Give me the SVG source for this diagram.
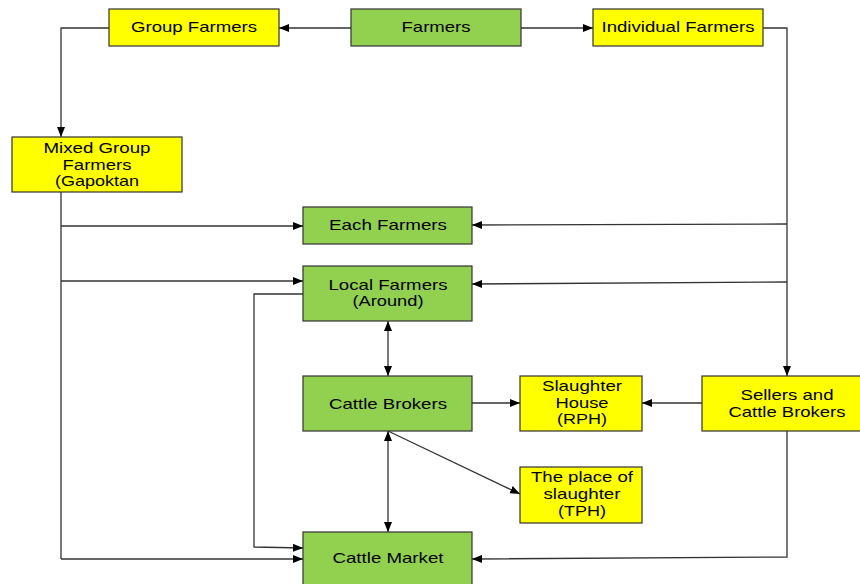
<svg xmlns="http://www.w3.org/2000/svg" width="860" height="584" viewBox="0 0 860 584">
<defs>
<marker id="ah" viewBox="0 0 10 8" refX="10" refY="4" markerWidth="10" markerHeight="8" markerUnits="userSpaceOnUse" orient="auto-start-reverse">
<path d="M0,0 L10,4 L0,8 z" fill="#000"/>
</marker>
<style>
.y{fill:#FFFF00;stroke:#333;stroke-width:1.2}
.g{fill:#92D050;stroke:#333;stroke-width:1.2}
text{font-family:"Liberation Sans",Arial,sans-serif;font-size:15px;fill:#000;text-anchor:middle}
.c path{fill:none;stroke:#333;stroke-width:1.3}
.a{marker-end:url(#ah)}
.b{marker-start:url(#ah);marker-end:url(#ah)}
</style>
</defs>
<rect width="860" height="584" fill="#fff"/>
<g class="c" id="connectors">
<path class="a" d="M351,28 L279,28"/>
<path class="a" d="M521,28 L593,28"/>
<path class="a" d="M109,28 L61,28 L61,137"/>
<path d="M61,192 L61,559"/>
<path class="a" d="M61,226 L303,226"/>
<path class="a" d="M61,281 L303,281"/>
<path class="a" d="M61,559 L303,559"/>
<path class="a" d="M763,28 L787,28 L787,376"/>
<path class="a" d="M787,224 L472,225"/>
<path class="a" d="M787,282 L472,284"/>
<path class="a" d="M303,294 L254,294 L254,547 L303,548"/>
<path class="b" d="M388,321 L388,376"/>
<path class="b" d="M388,431 L388,532"/>
<path class="a" d="M388,431 L520,494"/>
<path class="a" d="M472,403 L520,403"/>
<path class="a" d="M702,403 L642,403"/>
<path class="a" d="M787,431 L787,557 L472,559"/>
</g>
<g id="farmers"><rect class="g" x="351" y="9" width="170" height="37"/><text x="436" y="32" textLength="69" lengthAdjust="spacingAndGlyphs">Farmers</text></g>
<g id="group-farmers"><rect class="y" x="109" y="9" width="170" height="37"/><text x="194" y="32" textLength="126" lengthAdjust="spacingAndGlyphs">Group Farmers</text></g>
<g id="individual-farmers"><rect class="y" x="593" y="9" width="170" height="37"/><text x="678" y="32" textLength="153" lengthAdjust="spacingAndGlyphs">Individual Farmers</text></g>
<g id="mixed-group"><rect class="y" x="12" y="137" width="170" height="55"/>
<text x="97" y="153" textLength="107" lengthAdjust="spacingAndGlyphs">Mixed Group</text>
<text x="97" y="170" textLength="69" lengthAdjust="spacingAndGlyphs">Farmers</text>
<text x="97" y="186" textLength="84" lengthAdjust="spacingAndGlyphs">(Gapoktan</text></g>
<g id="each-farmers"><rect class="g" x="303" y="207" width="169" height="37"/><text x="388" y="230" textLength="118" lengthAdjust="spacingAndGlyphs">Each Farmers</text></g>
<g id="local-farmers"><rect class="g" x="303" y="266" width="169" height="55"/>
<text x="388" y="290" textLength="119" lengthAdjust="spacingAndGlyphs">Local Farmers</text>
<text x="388" y="306" textLength="71" lengthAdjust="spacingAndGlyphs">(Around)</text></g>
<g id="cattle-brokers"><rect class="g" x="303" y="376" width="169" height="55"/><text x="388" y="409" textLength="118" lengthAdjust="spacingAndGlyphs">Cattle Brokers</text></g>
<g id="slaughter-house"><rect class="y" x="520" y="376" width="122" height="55"/>
<text x="582" y="391" textLength="80" lengthAdjust="spacingAndGlyphs">Slaughter</text>
<text x="582" y="408" textLength="53" lengthAdjust="spacingAndGlyphs">House</text>
<text x="582" y="424" textLength="50" lengthAdjust="spacingAndGlyphs">(RPH)</text></g>
<g id="sellers"><rect class="y" x="702" y="376" width="170" height="55"/>
<text x="787" y="400" textLength="93" lengthAdjust="spacingAndGlyphs">Sellers and</text>
<text x="787" y="417" textLength="117" lengthAdjust="spacingAndGlyphs">Cattle Brokers</text></g>
<g id="tph"><rect class="y" x="520" y="467" width="122" height="56"/>
<text x="582" y="482" textLength="102" lengthAdjust="spacingAndGlyphs">The place of</text>
<text x="582" y="499" textLength="77" lengthAdjust="spacingAndGlyphs">slaughter</text>
<text x="582" y="516" textLength="48" lengthAdjust="spacingAndGlyphs">(TPH)</text></g>
<g id="cattle-market"><rect class="g" x="303" y="532" width="169" height="56"/><text x="388" y="563" textLength="111" lengthAdjust="spacingAndGlyphs">Cattle Market</text></g>
</svg>
